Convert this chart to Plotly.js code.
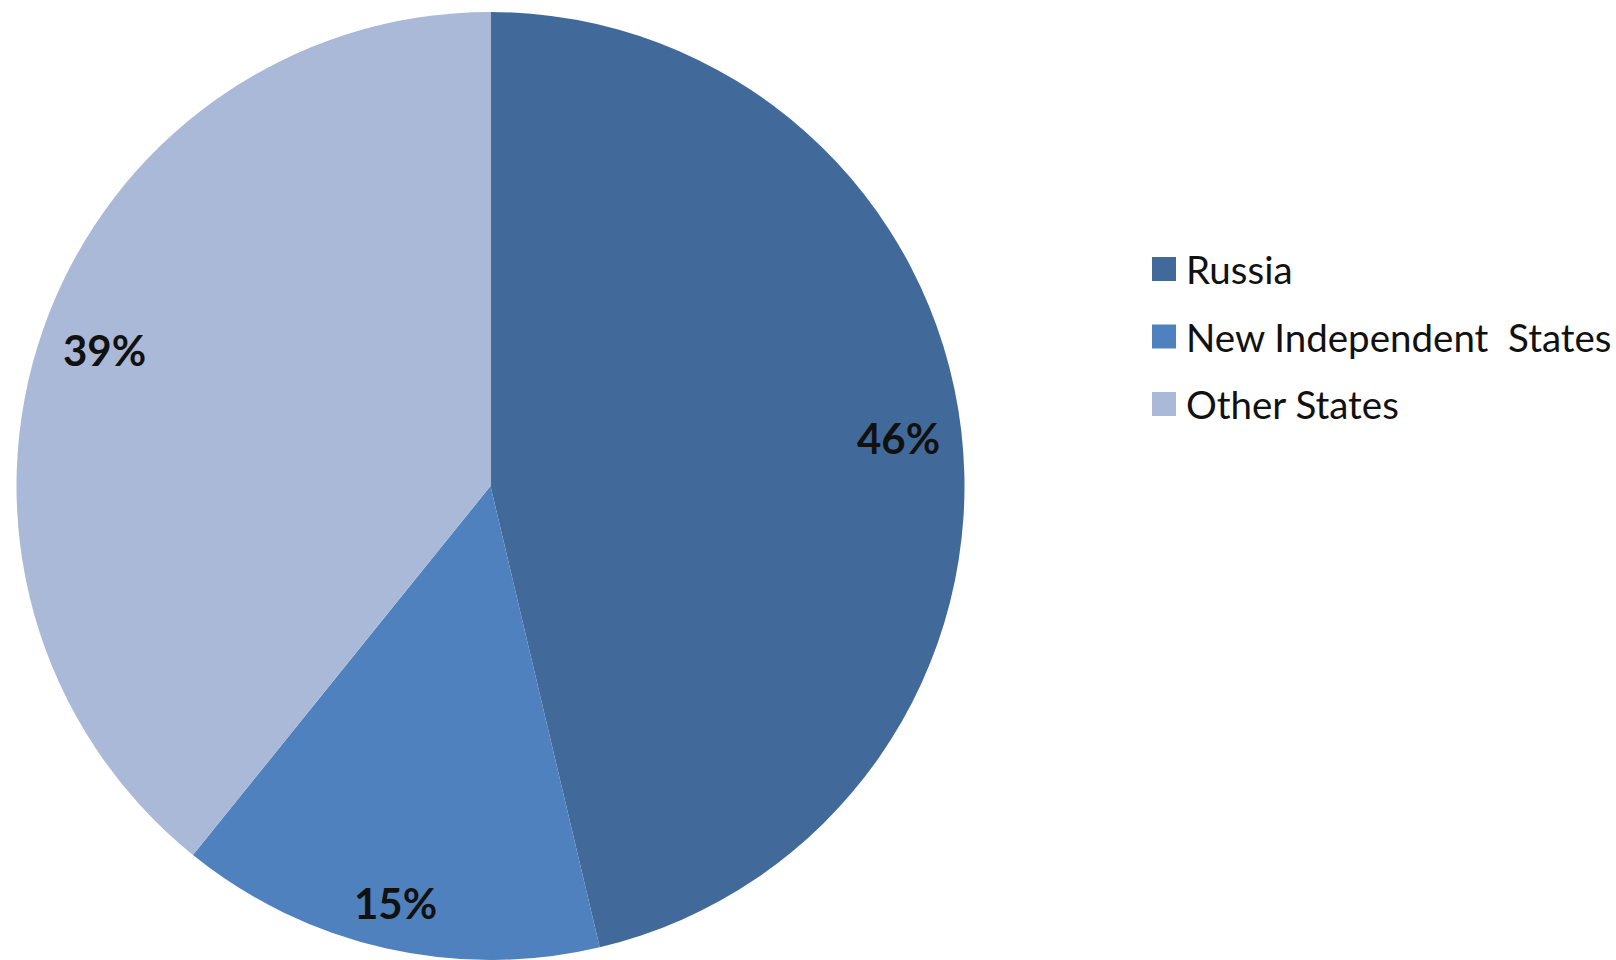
<!DOCTYPE html>
<html>
<head>
<meta charset="utf-8">
<script src="https://cdn.plot.ly/plotly-3.0.1.min.js"></script>
<style>html,body{margin:0;padding:0;background:#fff;}#chart{width:1616px;height:960px;}</style>
</head>
<body>
<div id="chart"></div>
<script>
const categories = ["Russia", "New Independent  States", "Other States"];
const shares = [46.3, 14.5, 39.2];
const percentLabels = ["46%", "15%", "39%"];
const sliceColors = ["#416A9B", "#4E81BD", "#A9B9D7"];

const W = 1616, H = 960;
const CX = 490.5, CY = 486, R = 474;
const labelFont = "Lato, 'Open Sans', sans-serif";

const trace = {
  type: "pie",
  labels: categories,
  values: shares,
  sort: false,
  direction: "clockwise",
  rotation: 0,
  marker: { colors: sliceColors, line: { width: 0 } },
  textinfo: "none",
  hoverinfo: "none",
  showlegend: false,
  domain: {
    x: [Math.max(0, (CX - R) / W), Math.min(1, (CX + R) / W)],
    y: [Math.max(0, 1 - (CY + R) / H), Math.min(1, 1 - (CY - R) / H)]
  }
};

// data labels: placed along each slice's mid-angle so that the label box sits just inside the rim
const total = shares.reduce((a, b) => a + b, 0);
const annotations = [];
const shapes = [];
const halfW = 40.5, halfH = 15.5, pad = 21;
let cum = 0;
shares.forEach((v, i) => {
  const mid = (cum + v / 2) / total * 2 * Math.PI;
  cum += v;
  const dx = Math.sin(mid), dy = -Math.cos(mid);
  const ex = Math.sign(dx) * halfW, ey = Math.sign(dy) * halfH;
  const de = dx * ex + dy * ey;
  const t = -de + Math.sqrt(de * de - (ex * ex + ey * ey) + (R - pad) * (R - pad));
  const px = CX + t * dx;
  const py = CY + t * dy;
  annotations.push({
    xref: "paper", yref: "paper", x: px / W, y: 1 - py / H,
    xanchor: "center", yanchor: "middle", showarrow: false,
    text: "<b>" + percentLabels[i] + "</b>",
    font: { family: labelFont, size: 42, color: "#111111" }
  });
});

// legend (squares + labels) built from the category arrays
const legX = 1152, legTop = 269, legStep = 67.5, sq = 24;
categories.forEach((c, i) => {
  const yc = legTop + i * legStep;
  shapes.push({
    type: "rect", xref: "paper", yref: "paper",
    x0: legX / W, x1: (legX + sq) / W,
    y0: 1 - (yc + sq / 2) / H, y1: 1 - (yc - sq / 2) / H,
    fillcolor: sliceColors[i], line: { width: 0 }
  });
  annotations.push({
    xref: "paper", yref: "paper", x: (legX + sq + 8) / W, y: 1 - yc / H,
    xanchor: "left", yanchor: "middle", showarrow: false,
    text: c.replace(/  /g, "&nbsp; "),
    font: { family: labelFont, size: 38.5, color: "#111111" }
  });
});

const layout = {
  width: W,
  height: H,
  margin: { l: 0, r: 0, t: 0, b: 0 },
  paper_bgcolor: "#ffffff",
  showlegend: false,
  annotations: annotations,
  shapes: shapes
};

Plotly.newPlot("chart", [trace], layout, { displayModeBar: false, staticPlot: true });
</script>
</body>
</html>
